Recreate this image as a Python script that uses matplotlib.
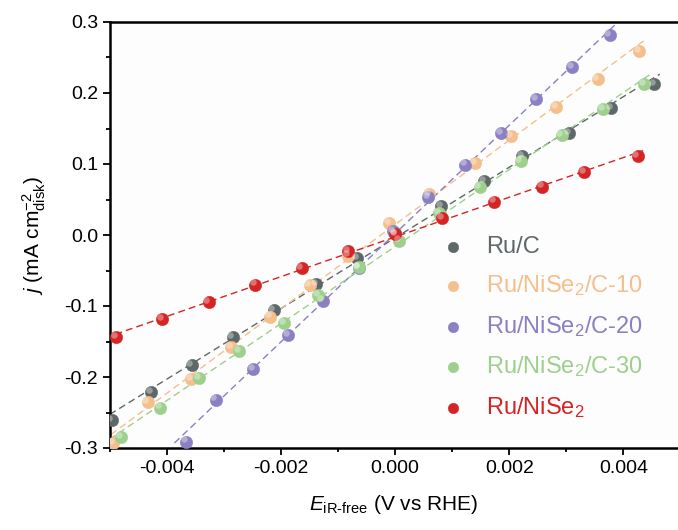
import numpy as np
import matplotlib
matplotlib.use('Agg')
import matplotlib.pyplot as plt
from matplotlib.ticker import MultipleLocator, FormatStrFormatter
from matplotlib.transforms import offset_copy

plt.rcParams['font.family'] = ['Liberation Sans', 'DejaVu Sans']
plt.rcParams['mathtext.fontset'] = 'custom'
plt.rcParams['mathtext.rm'] = 'Liberation Sans'
plt.rcParams['mathtext.it'] = 'Liberation Sans:italic'

# data
ruc_x = [-0.00497, -0.00428, -0.00357, -0.00285, -0.00213, -0.00139, -0.00067, 0.0,
         0.00081, 0.00156, 0.00222, 0.00305, 0.00379, 0.00454]
ruc_y = [-0.261, -0.221, -0.183, -0.144, -0.106, -0.069, -0.033, 0.003,
         0.041, 0.076, 0.111, 0.144, 0.179, 0.213]

c10_x = [-0.00494, -0.00434, -0.00358, -0.00288, -0.00219, -0.00150, -0.00082, -0.00010,
         0.00060, 0.00140, 0.00203, 0.00282, 0.00355, 0.00428]
c10_y = [-0.293, -0.235, -0.203, -0.158, -0.115, -0.071, -0.029, 0.017,
         0.058, 0.101, 0.139, 0.180, 0.220, 0.259]

c20_x = [-0.00367, -0.00315, -0.00249, -0.00188, -0.00127, -0.00064, -0.00003,
         0.00058, 0.00123, 0.00186, 0.00247, 0.00311, 0.00376]
c20_y = [-0.291, -0.232, -0.189, -0.141, -0.0925, -0.046, 0.005,
         0.053, 0.099, 0.144, 0.191, 0.236, 0.281]

c30_x = [-0.00481, -0.00412, -0.00344, -0.00274, -0.00195, -0.00135, -0.00064, 0.00007,
         0.00077, 0.00148, 0.00220, 0.00292, 0.00364, 0.00436]
c30_y = [-0.285, -0.243, -0.202, -0.163, -0.124, -0.0845, -0.0455, -0.008,
         0.031, 0.067, 0.104, 0.1405, 0.177, 0.2125]

red_x = [-0.00489, -0.00408, -0.00327, -0.00246, -0.00164, -0.00082, 0.0,
         0.00082, 0.00174, 0.00258, 0.00332, 0.00425]
red_y = [-0.144, -0.119, -0.094, -0.070, -0.047, -0.023, 0.001,
         0.024, 0.047, 0.068, 0.089, 0.111]

series = [
    ('Ru/C', ruc_x, ruc_y, '#5e6868'),
    ('Ru/NiSe$_2$/C-10', c10_x, c10_y, '#f4bf8c'),
    ('Ru/NiSe$_2$/C-20', c20_x, c20_y, '#8a80c2'),
    ('Ru/NiSe$_2$/C-30', c30_x, c30_y, '#9dd08c'),
    ('Ru/NiSe$_2$', red_x, red_y, '#d42424'),
]

fig = plt.figure(figsize=(6.78, 5.30), dpi=100)
ax = fig.add_axes([110/678, 82/530, 568/678, 426/530])
ax.set_facecolor('#fdfdfd')

hl = offset_copy(ax.transData, fig=fig, x=-1.6, y=1.6, units='points')
handles = []
for name, xs, ys, col in series:
    xs = np.array(xs)
    ys = np.array(ys)
    k, b = np.polyfit(xs, ys, 1)
    lx = np.array([xs.min() - 0.0002, xs.max() + 0.0001])
    ax.plot(lx, k * lx + b, '--', color=col, lw=1.0, dashes=(5, 3), zorder=2)
    h = ax.scatter(xs, ys, s=80, color=col, edgecolors=col, linewidths=0.3, zorder=3, label=name)
    ax.scatter(xs, ys, s=22, color='white', alpha=0.35, linewidths=0, zorder=4, transform=hl)
    handles.append(h)

ax.set_xlim(-0.005, 0.00496)
ax.set_ylim(-0.3, 0.3)
ax.xaxis.set_major_locator(MultipleLocator(0.002))
ax.xaxis.set_minor_locator(MultipleLocator(0.001))
ax.yaxis.set_major_locator(MultipleLocator(0.1))
ax.yaxis.set_minor_locator(MultipleLocator(0.05))
ax.xaxis.set_major_formatter(FormatStrFormatter('%.3f'))
ax.yaxis.set_major_formatter(FormatStrFormatter('%.1f'))
ax.tick_params(which='major', direction='out', length=5, width=1.3, labelsize=14, colors='black')
ax.tick_params(which='minor', direction='out', length=3, width=1.3)
for sp in ['left', 'bottom', 'top']:
    ax.spines[sp].set_linewidth(1.8)
ax.spines['right'].set_visible(False)

ax.set_xlabel('$E_{\\text{iR-free}}$ (V vs RHE)', fontsize=15, labelpad=12)
ax.set_ylabel('$j$ (mA cm$^{-2}_{\\text{disk}}$)', fontsize=15, labelpad=12)

leg = ax.legend(handles=handles, loc='upper left', bbox_to_anchor=(444/678, 1 - 236/530),
                bbox_transform=fig.transFigure, frameon=False, fontsize=17,
                handlelength=0.8, handletextpad=1.0, labelspacing=0.66,
                borderpad=0, borderaxespad=0, markerscale=0.85)
for t, (_, _, _, col) in zip(leg.get_texts(), series):
    t.set_color(col)

fig.savefig('out.png', dpi=100)
